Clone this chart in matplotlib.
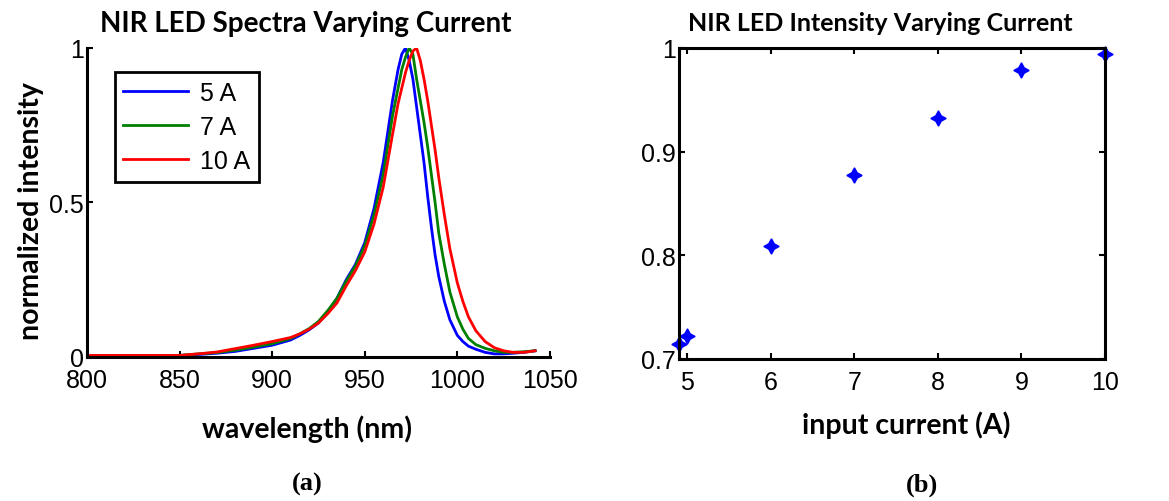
import numpy as np
import matplotlib.pyplot as plt

# Spectra data (wavelength in nm, normalized intensity)
wavelength = [800, 840, 850, 860, 870, 880, 890, 900, 910, 915, 920, 925, 930, 935,
              940, 945, 950, 955, 960, 965, 968, 970, 972, 974, 976, 978, 980, 982,
              984, 986, 988, 990, 993, 996, 1000, 1003, 1006, 1010, 1015, 1020,
              1025, 1030, 1036, 1042]
spec_5A = [0.005, 0.005, 0.005, 0.008, 0.012, 0.018, 0.028, 0.038, 0.055, 0.07,
           0.088, 0.11, 0.145, 0.19, 0.25, 0.30, 0.37, 0.48, 0.63, 0.83, 0.93,
           0.98, 1.0, 0.96, 0.90, 0.81, 0.72, 0.63, 0.52, 0.42, 0.33, 0.26, 0.18,
           0.12, 0.07, 0.05, 0.035, 0.025, 0.015, 0.01, 0.01, 0.012, 0.015, 0.02]
spec_7A = [0.005, 0.005, 0.005, 0.01, 0.014, 0.022, 0.032, 0.043, 0.06, 0.075,
           0.092, 0.115, 0.15, 0.19, 0.245, 0.295, 0.36, 0.46, 0.59, 0.78, 0.87,
           0.93, 0.97, 1.0, 0.98, 0.90, 0.83, 0.76, 0.68, 0.59, 0.50, 0.40, 0.30,
           0.21, 0.13, 0.09, 0.06, 0.04, 0.028, 0.02, 0.015, 0.015, 0.017, 0.02]
spec_10A = [0.005, 0.005, 0.005, 0.01, 0.016, 0.027, 0.038, 0.05, 0.063, 0.075,
            0.09, 0.11, 0.14, 0.175, 0.23, 0.28, 0.34, 0.43, 0.55, 0.72, 0.82,
            0.87, 0.92, 0.96, 0.99, 1.0, 0.96, 0.90, 0.83, 0.75, 0.67, 0.58, 0.46,
            0.35, 0.24, 0.18, 0.13, 0.085, 0.05, 0.03, 0.02, 0.015, 0.015, 0.02]

# Intensity vs current
current = [4.9, 5, 6, 7, 8, 9, 10]
intensity = [0.7145, 0.7225, 0.8088, 0.8777, 0.9327, 0.9784, 0.9942]

tick_font = 'Liberation Sans'
label_font = 'Lato'
lbl_size = 20.5

fig = plt.figure(figsize=(11.69, 5.02), dpi=100)
ax1 = fig.add_axes([0.0744, 0.2869, 0.396, 0.6155])
ax2 = fig.add_axes([0.5808, 0.2829, 0.3644, 0.6195])

# Left: spectra
ax1.plot(wavelength, spec_5A, color='#0000ff', lw=2, label='5 A')
ax1.plot(wavelength, spec_7A, color='#008000', lw=2, label='7 A')
ax1.plot(wavelength, spec_10A, color='#ff0000', lw=2, label='10 A')
ax1.set_xlim(800, 1050)
ax1.set_ylim(0, 1)
ax1.set_xticks([800, 850, 900, 950, 1000, 1050])
ax1.set_yticks([0, 0.5, 1])
ax1.set_yticklabels(['0', '0.5', '1'])
ax1.spines['top'].set_visible(False)
ax1.spines['right'].set_visible(False)
ax1.set_title('NIR LED Spectra Varying Current', fontfamily=label_font,
              fontweight='bold', fontsize=20, pad=12, x=0.473)
ax1.set_xlabel('wavelength (nm)', fontfamily=label_font, fontweight='bold',
               fontsize=lbl_size, labelpad=16, x=0.475)
ax1.set_ylabel('normalized intensity', fontfamily=label_font, fontweight='bold',
               fontsize=lbl_size, labelpad=4, y=0.476)
leg = ax1.legend(loc='upper left', bbox_to_anchor=(0.06, 0.922), borderaxespad=0,
                 fancybox=False, edgecolor='black', framealpha=1,
                 prop={'family': tick_font, 'size': 18}, handlelength=2.6,
                 labelspacing=0.4, borderpad=0.35, handletextpad=0.45)
leg.get_frame().set_linewidth(2)

# Right: intensity vs current
ax2.plot(current, intensity, linestyle='none', marker=(4, 1, 0), markersize=11,
         color='#0000ff', clip_on=False)
ax2.set_xlim(4.9, 10)
ax2.set_ylim(0.7, 1)
ax2.set_xticks([5, 6, 7, 8, 9, 10])
ax2.set_yticks([0.7, 0.8, 0.9, 1])
ax2.set_yticklabels(['0.7', '0.8', '0.9', '1'])
ax2.tick_params(top=True, right=True)
ax2.set_title('NIR LED Intensity Varying Current', fontfamily=label_font,
              fontweight='bold', fontsize=18, pad=13, x=0.472)
ax2.set_xlabel('input current (A)', fontfamily=label_font, fontweight='bold',
               fontsize=lbl_size, labelpad=12, x=0.533)

for ax in (ax1, ax2):
    for s in ax.spines.values():
        s.set_linewidth(2.2)
    ax.tick_params(direction='in', length=4, width=1.5, labelsize=18, pad=2)
    ax.tick_params(axis='x', pad=8)
    for lbl in ax.get_xticklabels() + ax.get_yticklabels():
        lbl.set_fontfamily(tick_font)

fig.text(0.263, 0.034, '(a)', fontfamily='Liberation Serif', fontweight='bold',
         fontsize=19, ha='center', va='center')
fig.text(0.789, 0.034, '(b)', fontfamily='Liberation Serif', fontweight='bold',
         fontsize=19, ha='center', va='center')

plt.savefig('out.png', dpi=100)
